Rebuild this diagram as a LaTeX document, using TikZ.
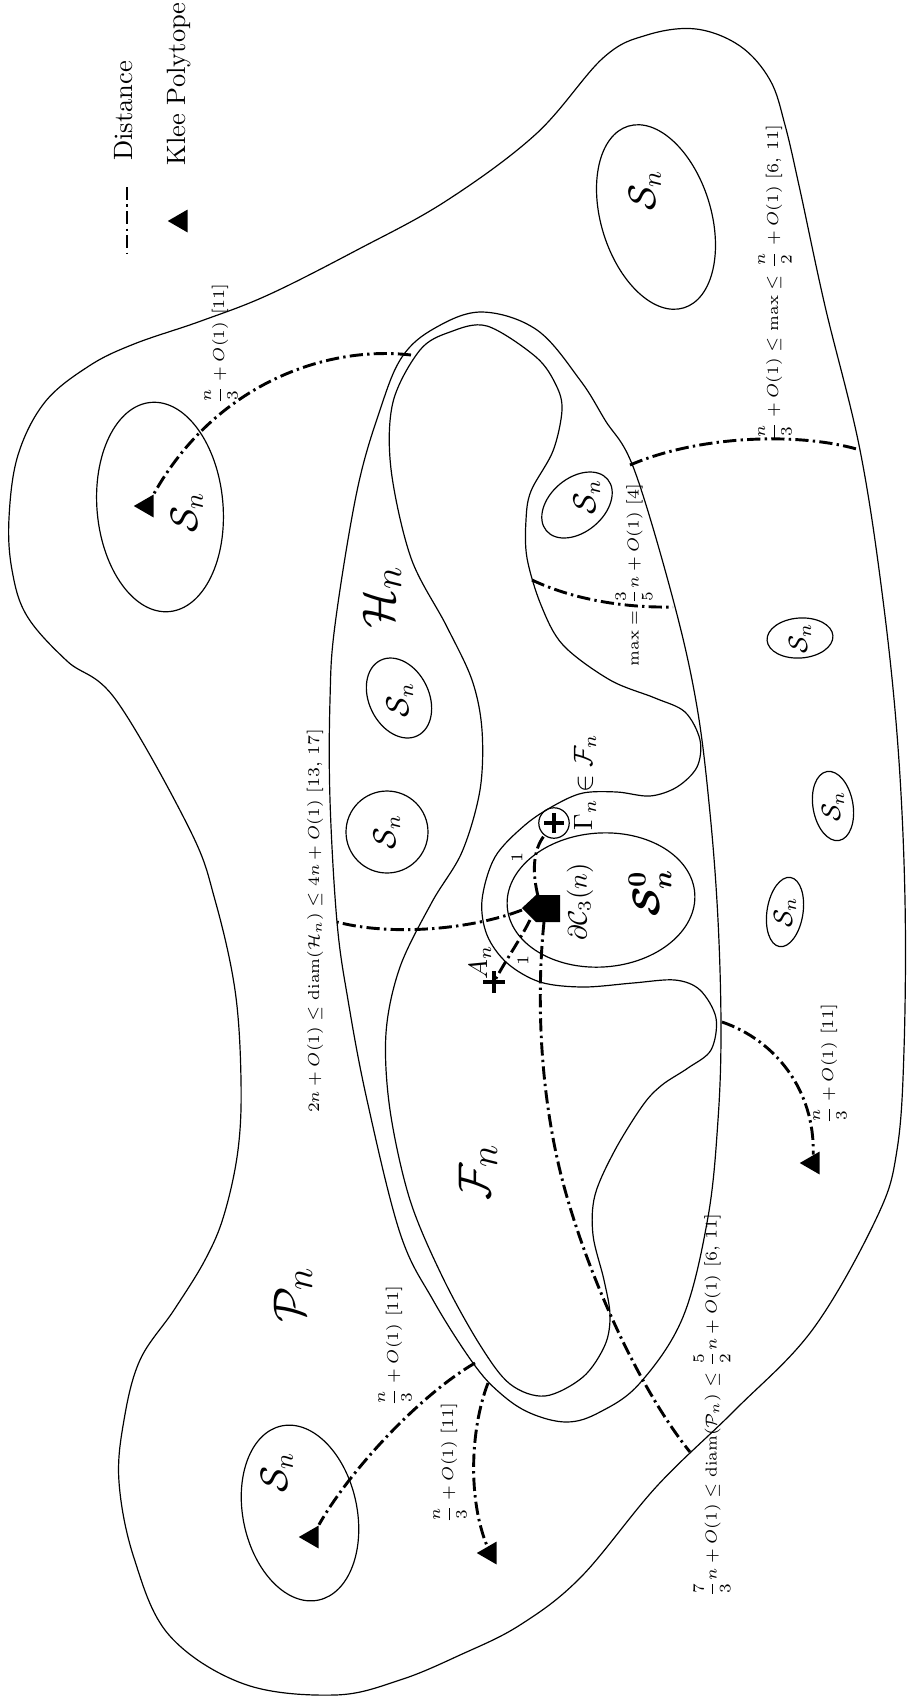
\documentclass[tikz,border=0pt]{standalone}
\usepackage{amsmath,amssymb}
\usetikzlibrary{shapes.geometric}
\begin{document}
\begin{tikzpicture}[x=0.01327cm,y=-0.01327cm,
  blob/.style={line width=0.45pt},
  dd/.style={line width=1.1pt, dash pattern=on 5pt off 1.6pt on 0.9pt off 1.6pt},
  lab/.style={rotate=90, font=\fontsize{6.2}{7.5}\selectfont, inner sep=0pt},
  legtxt/.style={rotate=90, inner sep=0pt},
  big/.style={rotate=90, font=\fontsize{19}{23}\selectfont, inner sep=0pt},
  snb/.style={rotate=90, font=\Large, inner sep=0pt},
  snm/.style={rotate=90, font=\large, inner sep=0pt},
  sns/.style={rotate=90, font=\normalsize, inner sep=0pt},
  kt/.style={regular polygon, regular polygon sides=3, shape border rotate=90, fill=black, draw=none, inner sep=0pt, minimum size=10pt},
  plusbar/.style={line width=1.7pt},
]
\useasboundingbox (0,0) rectangle (911,1699);

% ---------- outer region P_n ----------
\draw[blob] plot[smooth cycle, tension=0.6] coordinates {
 (134,344) (201,321) (268,295) (357,250) (446,201) (536,134) (603,58) (647,35) (696,29)
 (740,46) (770,80) (785,125) (800,190) (825,306) (860,450) (883,600) (898,747) (905,900)
 (904,1050) (897,1150) (877,1217) (813,1329) (735,1410) (657,1486) (581,1577) (520,1625)
 (460,1655) (400,1680) (335,1695) (244,1684) (169,1635) (134,1558) (119,1482) (124,1420)
 (140,1360) (174,1310) (205,1260) (224,1215) (238,1150) (241,1080) (235,990) (215,900)
 (190,830) (116,700) (67,661) (27,616) (12,570) (9,518) (18,455) (45,402) (89,366)};

% ---------- big ellipse-like region ----------
\draw[blob] plot[smooth cycle, tension=0.6] coordinates {
 (482,312) (537,330) (580,380) (605,420) (634,469) (674,603) (697,707) (710,813)
 (718,920) (721,1030) (718,1120) (708,1217) (683,1317) (640,1383) (600,1412) (567,1422)
 (530,1413) (500,1393) (473,1363) (433,1300) (400,1233) (367,1100) (348,1000) (337,922)
 (330,800) (330,700) (335,625) (357,491) (380,410) (402,357) (435,328)};

% ---------- wavy inner region ----------
\draw[blob] plot[smooth cycle, tension=0.55] coordinates {
 (487,326) (536,357) (556,385) (562,410) (553,451) (531,491) (526,520) (527,558) (541,605)
 (563,645) (610,680) (655,698) (685,712) (700,740) (697,767) (677,787) (650,796) (617,792)
 (583,793) (555,805) (525,825) (495,857) (482,900) (487,935) (507,963) (540,982) (583,987)
 (633,983) (675,980) (700,990) (716,1018) (711,1050) (688,1068) (662,1085) (643,1105)
 (615,1150) (595,1195) (593,1235) (604,1280) (610,1315) (605,1345) (583,1377) (545,1396)
 (510,1384) (480,1345) (443,1278) (410,1200) (390,1110) (386,1033) (400,967) (432,902)
 (462,852) (480,790) (482,730) (472,680) (446,625) (411,558) (391,469) (393,402) (420,350)
 (450,332)};

% ---------- small regions S_n ----------
\draw[blob, rotate around={17:(656,217)}] (656,217) ellipse [x radius=55, y radius=95];
\draw[blob, rotate around={5:(160,507)}] (160,507) ellipse [x radius=63, y radius=105];
\draw[blob, rotate around={12:(300,1513)}] (300,1513) ellipse [x radius=57, y radius=89];
\draw[blob, rotate around={40:(577,505)}] (577,505) ellipse [x radius=40, y radius=27];
\draw[blob, rotate around={26:(399,698)}] (399,698) ellipse [x radius=30, y radius=42];
\draw[blob] (387,832) circle [radius=41];
\draw[blob, rotate around={4:(800,638)}] (800,638) ellipse [x radius=33, y radius=20];
\draw[blob, rotate around={10:(833,806)}] (833,806) ellipse [x radius=20, y radius=35];
\draw[blob, rotate around={-9:(785,912)}] (785,912) ellipse [x radius=18, y radius=35];
\draw[blob, rotate around={4:(601,900)}] (601,900) ellipse [x radius=94, y radius=67];

\node[snb] (s1) at (645,190) {$\mathcal{S}_n$};
\node[snb] (s2) at (187,512) {$\mathcal{S}_n$};
\node[snb] (s3) at (277,1472) {$\mathcal{S}_n$};
\node[snm] (s4) at (587,497) {$\mathcal{S}_n$};
\node[snm] (s5) at (400,700) {$\mathcal{S}_n$};
\node[snm] (s6) at (387,832) {$\mathcal{S}_n$};
\node[sns] (s7) at (800,638) {$\mathcal{S}_n$};
\node[sns] (s8) at (833,806) {$\mathcal{S}_n$};
\node[sns] (s9) at (785,912) {$\mathcal{S}_n$};

% ---------- big labels ----------
\node[big] (Hn) at (382,597) {$\mathcal{H}_n$};
\node[big] (Fn) at (478,1172) {$\mathcal{F}_n$};
\node[big] (Pn) at (293,1295) {$\mathcal{P}_n$};
\node[snb] (S0) at (650,893) {$\boldsymbol{\mathcal{S}^0_n}$};
\node[rotate=90, inner sep=0pt] (dC) at (580,902) {$\partial\mathcal{C}_3(n)$};
\node[rotate=90, inner sep=0pt] (Gm) at (585,782) {$\Gamma_n\in\mathcal{F}_n$};
\node[rotate=90, inner sep=0pt] (Al) at (480,962) {$A_n$};
\node[lab] (one1) at (517,857) {1};
\node[lab] (one2) at (523,960) {1};

% ---------- special points ----------
\fill (560,895) -- (560,922) -- (536,922) -- (522,908) -- (536,895) -- cycle;
\coordinate (hT) at (538,896);
\coordinate (hB1) at (530,920);
\coordinate (hB2) at (544,922);
\coordinate (hL) at (522,910);
\node[circle, draw, blob, minimum size=11.5pt, inner sep=0pt] (gam) at (554,823) {};
\draw[plusbar] ([xshift=-3.6pt]gam.center) -- ([xshift=3.6pt]gam.center);
\draw[plusbar] ([yshift=-3.6pt]gam.center) -- ([yshift=3.6pt]gam.center);
\coordinate (An) at (494,982);
\draw[plusbar] ([xshift=-4.1pt]An) -- ([xshift=4.1pt]An);
\draw[plusbar] ([yshift=-4.1pt]An) -- ([yshift=4.1pt]An);

% ---------- Klee polytope markers ----------
\node[kt] (t1) at (147,506) {};
\node[kt] (t2) at (312,1537) {};
\node[kt] (t3) at (490,1553) {};
\node[kt] (t4) at (813,1163) {};

% ---------- end points on boundaries ----------
\coordinate (eTL) at (411,355);
\coordinate (eR) at (630,465);
\coordinate (pR) at (860,450);
\coordinate (gB) at (532,580);
\coordinate (eR2) at (673,607);
\coordinate (eL) at (337,922);
\coordinate (pB) at (690,1452);
\coordinate (mB) at (565,1190);
\coordinate (gK) at (722,1022);
\coordinate (eBL1) at (475,1363);
\coordinate (eBL2) at (488,1383);

% ---------- distances ----------
\draw[dd] (eTL) .. controls (325,345) and (215,385) .. (t1);
\draw[dd] (eR) .. controls (700,435) and (800,432) .. (pR);
\draw[dd] (gB) .. controls (570,598) and (620,608) .. (eR2);
\draw[dd] (hL) .. controls (470,930) and (390,936) .. (eL);
\draw[dd] (hT) .. controls (532,872) and (533,850) .. (gam);
\draw[dd] (hB1) .. controls (520,940) and (507,958) .. (An);
\draw[dd] (hB2) .. controls (536,1000) and (540,1100) .. (mB) .. controls (590,1280) and (640,1390) .. (pB);
\draw[dd] (gK) .. controls (775,1040) and (815,1090) .. (t4);
\draw[dd] (eBL1) .. controls (420,1395) and (350,1470) .. (t2);
\draw[dd] (eBL2) .. controls (470,1430) and (468,1500) .. (t3);

% ---------- distance labels ----------
\node[lab] (l1) at (221,344) {$\dfrac{n}{3}+O(1)$ [11]};
\node[lab] (l2) at (775,283) {$\dfrac{n}{3}+O(1)\leq\max\leq\dfrac{n}{2}+O(1)$ [6, 11]};
\node[lab] (l3) at (634,575) {$\max=\dfrac{3}{5}n+O(1)$ [4]};
\node[lab] (l4) at (315,921) {$2n+O(1)\leq\mathrm{diam}(\mathcal{H}_n)\leq 4n+O(1)$ [13, 17]};
\node[lab] (l5) at (830,1064) {$\dfrac{n}{3}+O(1)$ [11]};
\node[lab] (l6) at (395,1346) {$\dfrac{n}{3}+O(1)$ [11]};
\node[lab] (l7) at (450,1463) {$\dfrac{n}{3}+O(1)$ [11]};
\node[lab] (l8) at (712,1405) {$\dfrac{7}{3}n+O(1)\leq\mathrm{diam}(\mathcal{P}_n)\leq\dfrac{5}{2}n+O(1)$ [6, 11]};

% ---------- legend ----------
\coordinate (lg1) at (127,187);
\coordinate (lg2) at (127,254);
\draw[dd] (lg1) -- (lg2);
\node[legtxt] (ldist) at (124,111) {Distance};
\node[kt] (lkt) at (181,221) {};
\node[legtxt] (lklee) at (179,84) {Klee Polytope};
\end{tikzpicture}
\end{document}
